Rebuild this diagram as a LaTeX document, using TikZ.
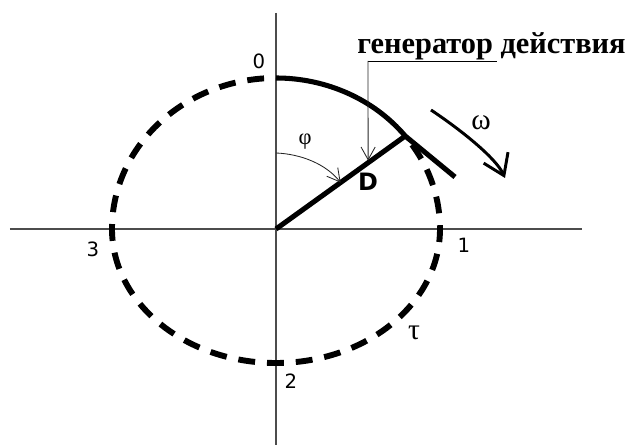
\documentclass[tikz,border=0pt]{standalone}
\usepackage{fontspec}
\setmainfont{Liberation Serif}
\newfontfamily\labelfont{DejaVu Sans}
\usetikzlibrary{calc,arrows.meta}

\begin{document}
\begin{tikzpicture}[
        x=0.025cm, y=0.025cm,
        axis/.style={
            line width=0.9pt,
            draw=black!70
        },
        thickline/.style={
            line width=3.6pt,
            black
        },
        dashcircle/.style={
            line width=4.2pt,
            black,
            dash pattern=on 12pt off 8.5pt,
            dash phase=12pt
        },
        thinarrow/.style={
            line width=0.6pt,
            black!85,
            -{Straight Barb[length=9pt,width=10pt]}
        },
        numlabel/.style={
            font=\labelfont\fontsize{14}{14}\selectfont,
            inner sep=0pt
        },
        greeklabel/.style={
            font=\fontsize{21}{21}\selectfont,
            inner sep=0pt
        }
    ]
    \useasboundingbox (-276,-216) rectangle (351,229);

    % Axes
    \coordinate (O) at (0,0);
    \draw[axis] (-266,0) -- (306,0);
    \draw[axis] (0,216) -- (0,-216);

    % Dashed circle (upper half a bit taller than the lower one)
    \draw[dashcircle] (0,151)
        arc[start angle=90, end angle=180, x radius=164, y radius=151]
        arc[start angle=180, end angle=360, x radius=164, y radius=134]
        arc[start angle=0, end angle=38, x radius=164, y radius=151];

    % Generator: solid arc, its tail and the radius D
    \coordinate (P) at (38:164 and 151);
    \coordinate (E) at (179,52);
    \draw[thickline] (0,151) arc[start angle=90, end angle=38, x radius=164, y radius=151] -- (E);
    \draw[thickline] (O) -- (P);

    % Point labels
    \node[numlabel] (zero) at (-17,168) {0};
    \node[numlabel] (one) at (188,-16) {1};
    \node[numlabel] (two) at (15,-152) {2};
    \node[numlabel] (three) at (-183,-20) {3};
    \node[greeklabel] (tau) at (138,-104) {τ};
    \node[font=\labelfont\bfseries\fontsize{17}{17}\selectfont, inner sep=0pt] (dlabel) at (92,47) {D};

    % Angle phi
    \coordinate (phistart) at (0,76);
    \path (O) -- (P) coordinate[pos=0.5] (phiend);
    \draw[thinarrow] (phistart) .. controls (25,75) and (50,65) .. (phiend);
    \node[greeklabel, font=\fontsize{16}{16}\selectfont] (phi) at (29,87) {φ};

    % Rotation omega
    \coordinate (wstart) at (155,119);
    \coordinate (wend) at (229,51);
    \draw[line width=2.1pt, -{Straight Barb[length=14pt,width=19pt]}] (wstart) .. controls (185,99) and (220,71) .. (wend);
    \node[greeklabel] (omega) at (205,106) {ω};

    % Generator label with its leader
    \node[anchor=base west, inner sep=0pt, font=\bfseries\fontsize{21.6}{21.6}\selectfont] (gen) at (81,175) {генератор действия};
    \coordinate (lead) at ($(gen.base west)+(11,-7)$);
    \coordinate (leadend) at ($(gen.base west)+(140,-7)$);
    \path (O) -- (P) coordinate[pos=0.713] (foot);
    \draw[line width=0.6pt] (leadend) -- (lead);
    \draw[thinarrow, shorten >=1.5pt] (lead) -- (foot);

\end{tikzpicture}
\end{document}
